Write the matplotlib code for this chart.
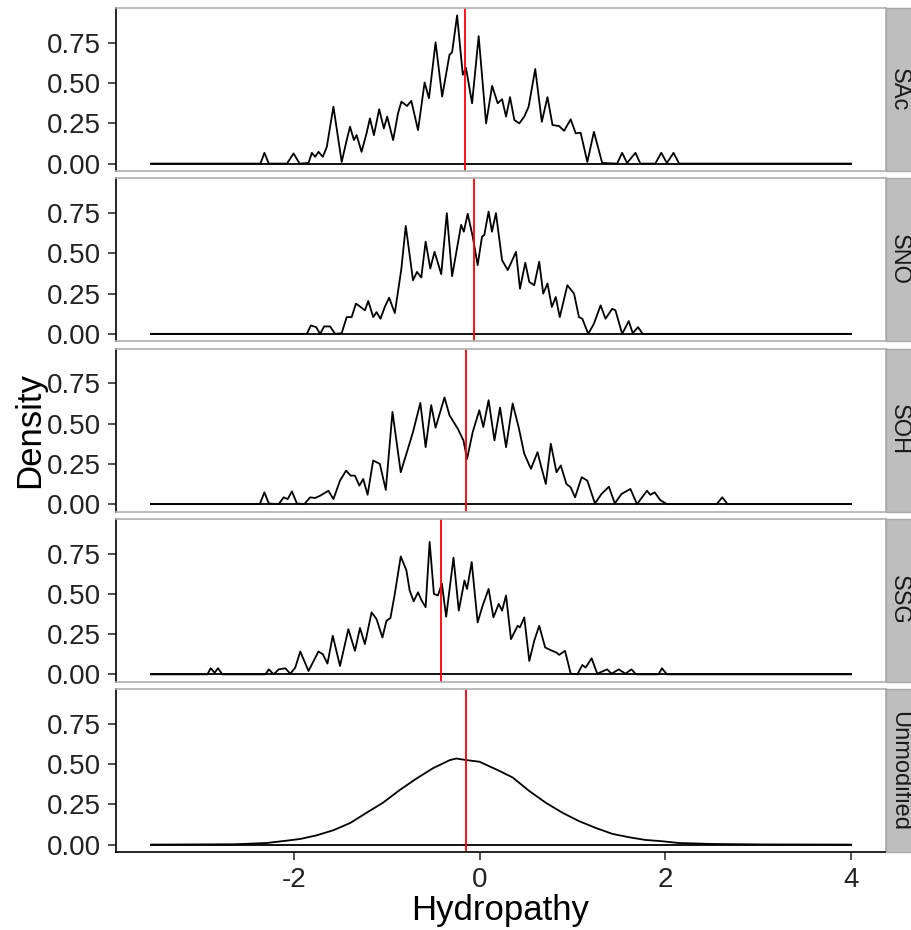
import matplotlib
matplotlib.use("Agg")
import matplotlib.pyplot as plt
from matplotlib.patches import Rectangle

plt.rcParams['font.family'] = ['Liberation Sans', 'DejaVu Sans']
plt.rcParams['axes.unicode_minus'] = False

groups = ["SAc", "SNO", "SOH", "SSG", "Unmodified"]
group_means = [-0.153, -0.064, -0.15, -0.418, -0.15]

# density curves (x = hydropathy, y = density)
sac_x = [-3.537, -2.359, -2.316, -2.269, -2.073, -2.002, -1.937, -1.841, -1.805, -1.77, -1.734, -1.687,
         -1.644, -1.573, -1.53, -1.484, -1.43, -1.394, -1.352, -1.323, -1.27, -1.216, -1.18, -1.137,
         -1.08, -1.03, -0.994, -0.93, -0.877, -0.841, -0.78, -0.734, -0.662, -0.591, -0.544, -0.473,
         -0.402, -0.323, -0.295, -0.241, -0.18, -0.145, -0.08, -0.009, 0.071, 0.136, 0.196, 0.243,
         0.286, 0.329, 0.375, 0.429, 0.482, 0.529, 0.6, 0.671, 0.732, 0.786, 0.857, 0.911, 0.982,
         1.036, 1.089, 1.161, 1.232, 1.321, 1.482, 1.536, 1.589, 1.679, 1.732, 1.893, 1.957, 2.018,
         2.089, 2.15, 4.0]
sac_y = [0, 0, 0.067, 0, 0, 0.063, 0, 0.004, 0.067, 0.042, 0.073, 0.042,
         0.104, 0.354, 0.188, 0.01, 0.146, 0.229, 0.146, 0.177, 0.073, 0.188, 0.281, 0.177,
         0.338, 0.219, 0.292, 0.146, 0.313, 0.385, 0.358, 0.39, 0.208, 0.504, 0.406, 0.754,
         0.417, 0.677, 0.692, 0.921, 0.552, 0.594, 0.375, 0.792, 0.25, 0.483, 0.375, 0.40,
         0.292, 0.413, 0.271, 0.25, 0.292, 0.354, 0.588, 0.26, 0.413, 0.24, 0.233, 0.204, 0.275,
         0.188, 0.192, 0.01, 0.198, 0.004, 0, 0.067, 0.004, 0.067, 0, 0, 0.067, 0.004,
         0.067, 0, 0]

sno_x = [-3.537, -1.859, -1.816, -1.759, -1.716, -1.673, -1.609, -1.555, -1.484, -1.43, -1.377, -1.33,
         -1.28, -1.234, -1.198, -1.144, -1.109, -1.066, -1.02, -0.973, -0.912, -0.841, -0.794, -0.716,
         -0.673, -0.627, -0.58, -0.53, -0.484, -0.412, -0.352, -0.295, -0.198, -0.169, -0.127, -0.073,
         -0.02, 0.027, 0.052, 0.098, 0.134, 0.177, 0.243, 0.304, 0.357, 0.393, 0.436, 0.493, 0.536,
         0.589, 0.643, 0.686, 0.732, 0.779, 0.821, 0.864, 0.946, 1.018, 1.071, 1.107, 1.171, 1.232,
         1.304, 1.357, 1.429, 1.464, 1.536, 1.607, 1.65, 1.707, 1.757, 4.0]
sno_y = [0, 0, 0.052, 0.042, 0, 0.046, 0.046, 0, 0.004, 0.104, 0.104, 0.188,
         0.167, 0.146, 0.204, 0.104, 0.135, 0.094, 0.167, 0.225, 0.129, 0.406, 0.671, 0.333,
         0.385, 0.35, 0.573, 0.406, 0.51, 0.371, 0.75, 0.358, 0.677, 0.635, 0.746, 0.604,
         0.427, 0.604, 0.615, 0.76, 0.635, 0.75, 0.458, 0.396, 0.463, 0.51, 0.281, 0.442, 0.323,
         0.302, 0.448, 0.25, 0.313, 0.167, 0.229, 0.104, 0.302, 0.25, 0.104, 0.094, 0, 0.063,
         0.177, 0.094, 0.156, 0.146, 0, 0.079, 0.004, 0.042, 0, 0]

soh_x = [-3.537, -2.366, -2.316, -2.269, -2.162, -2.109, -2.066, -2.02, -1.966, -1.887, -1.823, -1.77,
         -1.716, -1.627, -1.573, -1.502, -1.437, -1.387, -1.341, -1.294, -1.252, -1.205, -1.145, -1.073,
         -1.009, -0.937, -0.848, -0.787, -0.716, -0.637, -0.58, -0.52, -0.473, -0.377, -0.323, -0.234,
         -0.173, -0.134, -0.073, -0.002, 0.041, 0.098, 0.161, 0.221, 0.286, 0.357, 0.421, 0.482,
         0.554, 0.625, 0.661, 0.714, 0.768, 0.829, 0.875, 0.936, 0.982, 1.029, 1.1, 1.161, 1.243,
         1.314, 1.393, 1.457, 1.529, 1.625, 1.696, 1.804, 1.839, 1.886, 1.946, 2.018, 2.554, 2.614,
         2.671, 4.0]
soh_y = [0, 0, 0.073, 0.004, 0, 0.042, 0.031, 0.079, 0.004, 0, 0.042, 0.038,
         0.052, 0.083, 0.031, 0.146, 0.208, 0.177, 0.177, 0.115, 0.156, 0.058, 0.271, 0.25,
         0.088, 0.573, 0.198, 0.313, 0.448, 0.629, 0.354, 0.615, 0.475, 0.663, 0.552, 0.469,
         0.396, 0.281, 0.448, 0.583, 0.479, 0.646, 0.396, 0.6, 0.354, 0.625, 0.479, 0.313,
         0.219, 0.323, 0.24, 0.125, 0.375, 0.198, 0.24, 0.125, 0.104, 0.042, 0.167, 0.146, 0.004,
         0.063, 0.108, 0.004, 0.063, 0.094, 0, 0.083, 0.058, 0.073, 0.025, 0, 0, 0.042,
         0, 0]

ssg_x = [-3.537, -2.93, -2.894, -2.852, -2.816, -2.769, -2.305, -2.269, -2.216, -2.162, -2.091, -2.037,
         -1.984, -1.93, -1.841, -1.734, -1.687, -1.637, -1.58, -1.502, -1.412, -1.341, -1.287, -1.234,
         -1.162, -1.109, -1.045, -1.002, -0.959, -0.912, -0.848, -0.787, -0.752, -0.709, -0.662, -0.627,
         -0.58, -0.537, -0.491, -0.448, -0.405, -0.359, -0.28, -0.223, -0.162, -0.134, -0.084, -0.02,
         0.034, 0.098, 0.15, 0.207, 0.243, 0.286, 0.339, 0.411, 0.436, 0.482, 0.536, 0.589, 0.643,
         0.707, 0.768, 0.829, 0.857, 0.921, 0.982, 1.054, 1.107, 1.143, 1.207, 1.268, 1.375, 1.421,
         1.5, 1.571, 1.636, 1.686, 1.929, 1.964, 2.018, 4.0]
ssg_y = [0, 0, 0.038, 0.01, 0.038, 0, 0, 0.031, 0, 0.031, 0.038, 0.004,
         0.042, 0.142, 0.021, 0.142, 0.125, 0.067, 0.24, 0.052, 0.281, 0.146, 0.288, 0.188,
         0.385, 0.344, 0.229, 0.333, 0.35, 0.5, 0.733, 0.646, 0.521, 0.454, 0.51, 0.463,
         0.417, 0.823, 0.5, 0.49, 0.563, 0.358, 0.725, 0.396, 0.583, 0.531, 0.698, 0.323,
         0.427, 0.531, 0.354, 0.438, 0.396, 0.49, 0.219, 0.302, 0.292, 0.354, 0.083, 0.208, 0.302,
         0.167, 0.15, 0.135, 0.121, 0.146, 0.004, 0, 0.058, 0.042, 0.1, 0.004, 0.031, 0.004,
         0.031, 0.004, 0.031, 0, 0, 0.038, 0, 0]

unmod_x = [-3.537, -2.64, -2.29, -2.07, -1.93, -1.75, -1.57, -1.39, -1.21, -1.04, -0.857, -0.68,
           -0.5, -0.32, -0.25, -0.14, 0.0, 0.214, 0.357, 0.536, 0.714, 0.893, 1.071, 1.25, 1.429,
           1.607, 1.786, 1.964, 2.143, 2.5, 3.04, 4.0]
unmod_y = [0, 0.002, 0.01, 0.025, 0.035, 0.058, 0.09, 0.135, 0.2, 0.26, 0.34, 0.41,
           0.475, 0.525, 0.535, 0.525, 0.515, 0.458, 0.417, 0.333, 0.26, 0.198, 0.146, 0.104, 0.067,
           0.046, 0.029, 0.021, 0.01, 0.004, 0.001, 0]

curves = [(sac_x, sac_y), (sno_x, sno_y), (soh_x, soh_y), (ssg_x, ssg_y), (unmod_x, unmod_y)]

W, H = 912, 930
fig = plt.figure(figsize=(W / 100, H / 100), dpi=100)

left = 116 / W
width = (886 - 116) / W
for i, (name, mean, (xs, ys)) in enumerate(zip(groups, group_means, curves)):
    top = 8 + i * 170.25
    ax = fig.add_axes([left, 1 - (top + 163) / H, width, 163 / H])
    ax.plot(xs, ys, color='black', lw=1.3, solid_joinstyle='round')
    ax.plot([xs[0], xs[-1]], [0, 0], color='black', lw=1.3)
    ax.axvline(mean, color='red', lw=1.3)
    ax.set_xlim(-3.914, 4.377)
    ax.set_ylim(-0.046, 0.967)
    ax.set_yticks([0, 0.25, 0.5, 0.75])
    ax.set_yticklabels(["0.00", "0.25", "0.50", "0.75"])
    ax.set_xticks([-2, 0, 2, 4])
    for s in ax.spines.values():
        s.set_color('#b0b0b0')
        s.set_linewidth(1.2)
    ax.spines['left'].set_color('black')
    ax.tick_params(axis='y', length=6, width=1.2, color='#333333', labelsize=20,
                   labelcolor='#222222', pad=5)
    if i == 4:
        ax.spines['bottom'].set_color('black')
        ax.tick_params(axis='x', length=6, width=1.2, color='#333333', labelsize=20,
                       labelcolor='#222222', pad=5)
    else:
        ax.tick_params(axis='x', length=0, labelbottom=False)

    # strip on the right
    y0 = 1 - (top + 163) / H
    fig.patches.append(Rectangle((886 / W, y0), 40 / W, 163 / H, transform=fig.transFigure,
                                 facecolor='#bebebe', edgecolor='#a8a8a8', lw=1))
    fig.text(899 / W, 1 - (top + 81.5) / H, name, rotation=-90, ha='center', va='center',
             fontsize=17, color='#1a1a1a')

fig.text(30 / W, 1 - 430 / H, "Density", rotation=90, ha='center', va='center', fontsize=25)
fig.text(500 / W, 1 - 910 / H, "Hydropathy", ha='center', va='center', fontsize=25)

plt.savefig("out.png", dpi=100)
